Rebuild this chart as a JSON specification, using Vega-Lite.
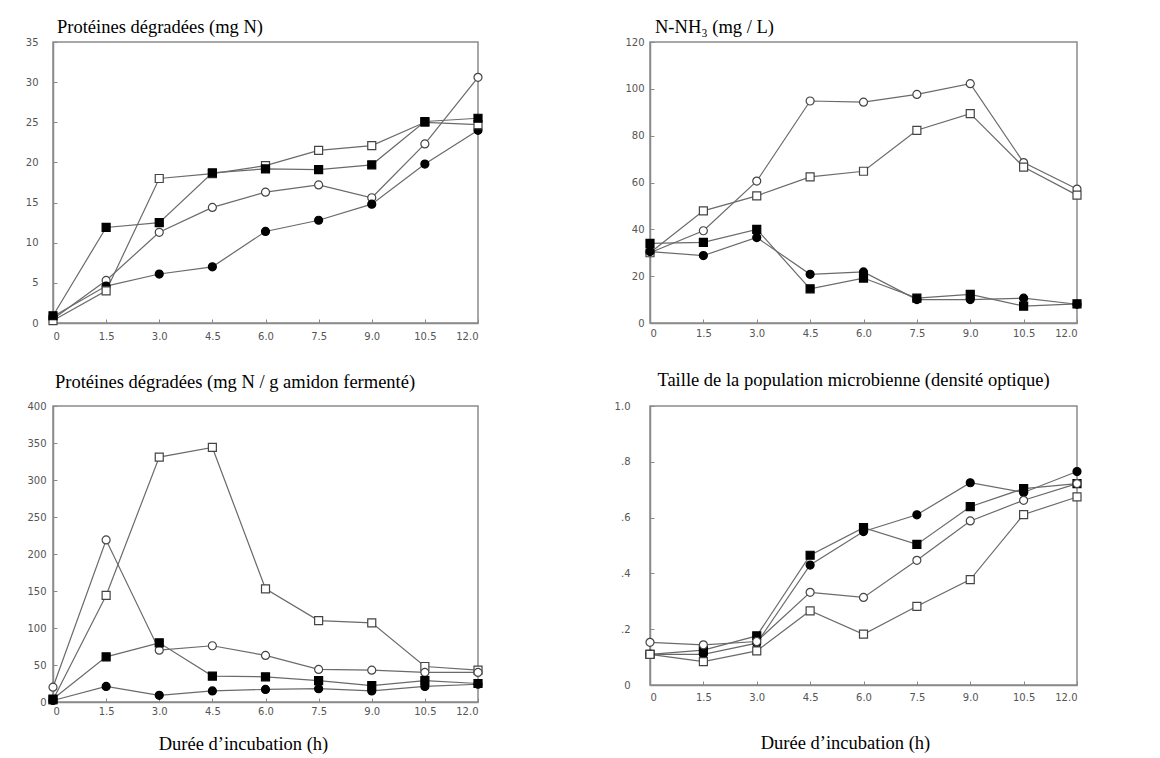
{
  "$schema": "https://vega.github.io/schema/vega-lite/v6.json",
  "background": "white",
  "padding": {"left": 24, "top": 16, "right": 5, "bottom": 5},
  "config": {
    "view": {"stroke": "#8a8a8a", "strokeWidth": 1.5},
    "axis": {
      "grid": false,
      "domainColor": "#8a8a8a",
      "domainWidth": 1.5,
      "tickColor": "#8a8a8a",
      "tickSize": -4,
      "tickWidth": 1,
      "labelFont": "DejaVu Sans",
      "labelFontSize": 10,
      "labelColor": "#555555",
      "titleFont": "Liberation Serif",
      "titleFontSize": 18.5,
      "titleFontWeight": "normal",
      "titleColor": "#000000"
    },
    "title": {"font": "Liberation Serif", "fontSize": 18.5, "fontWeight": "normal", "color": "#000000", "frame": "group"}
  },
  "data": {
    "values": [
      {"p": "A", "t": 0, "s": "cercle vide", "v": 0.5},
      {"p": "A", "t": 1.5, "s": "cercle vide", "v": 5.3},
      {"p": "A", "t": 3, "s": "cercle vide", "v": 11.3},
      {"p": "A", "t": 4.5, "s": "cercle vide", "v": 14.4},
      {"p": "A", "t": 6, "s": "cercle vide", "v": 16.3},
      {"p": "A", "t": 7.5, "s": "cercle vide", "v": 17.2},
      {"p": "A", "t": 9, "s": "cercle vide", "v": 15.6},
      {"p": "A", "t": 10.5, "s": "cercle vide", "v": 22.3},
      {"p": "A", "t": 12, "s": "cercle vide", "v": 30.6},
      {"p": "A", "t": 0, "s": "cercle plein", "v": 0.8},
      {"p": "A", "t": 1.5, "s": "cercle plein", "v": 4.6},
      {"p": "A", "t": 3, "s": "cercle plein", "v": 6.1},
      {"p": "A", "t": 4.5, "s": "cercle plein", "v": 7.0},
      {"p": "A", "t": 6, "s": "cercle plein", "v": 11.4},
      {"p": "A", "t": 7.5, "s": "cercle plein", "v": 12.8},
      {"p": "A", "t": 9, "s": "cercle plein", "v": 14.8},
      {"p": "A", "t": 10.5, "s": "cercle plein", "v": 19.8},
      {"p": "A", "t": 12, "s": "cercle plein", "v": 24.0},
      {"p": "A", "t": 0, "s": "carré vide", "v": 0.3},
      {"p": "A", "t": 1.5, "s": "carré vide", "v": 4.0},
      {"p": "A", "t": 3, "s": "carré vide", "v": 18.0},
      {"p": "A", "t": 4.5, "s": "carré vide", "v": 18.6},
      {"p": "A", "t": 6, "s": "carré vide", "v": 19.6},
      {"p": "A", "t": 7.5, "s": "carré vide", "v": 21.5},
      {"p": "A", "t": 9, "s": "carré vide", "v": 22.1},
      {"p": "A", "t": 10.5, "s": "carré vide", "v": 25.0},
      {"p": "A", "t": 12, "s": "carré vide", "v": 24.7},
      {"p": "A", "t": 0, "s": "carré plein", "v": 0.9},
      {"p": "A", "t": 1.5, "s": "carré plein", "v": 11.9},
      {"p": "A", "t": 3, "s": "carré plein", "v": 12.5},
      {"p": "A", "t": 4.5, "s": "carré plein", "v": 18.7},
      {"p": "A", "t": 6, "s": "carré plein", "v": 19.2},
      {"p": "A", "t": 7.5, "s": "carré plein", "v": 19.1},
      {"p": "A", "t": 9, "s": "carré plein", "v": 19.7},
      {"p": "A", "t": 10.5, "s": "carré plein", "v": 25.1},
      {"p": "A", "t": 12, "s": "carré plein", "v": 25.5},

      {"p": "B", "t": 0, "s": "cercle vide", "v": 30},
      {"p": "B", "t": 1.5, "s": "cercle vide", "v": 39.4},
      {"p": "B", "t": 3, "s": "cercle vide", "v": 60.6},
      {"p": "B", "t": 4.5, "s": "cercle vide", "v": 94.8},
      {"p": "B", "t": 6, "s": "cercle vide", "v": 94.3},
      {"p": "B", "t": 7.5, "s": "cercle vide", "v": 97.6},
      {"p": "B", "t": 9, "s": "cercle vide", "v": 102.2},
      {"p": "B", "t": 10.5, "s": "cercle vide", "v": 68.5},
      {"p": "B", "t": 12, "s": "cercle vide", "v": 57.2},
      {"p": "B", "t": 0, "s": "carré vide", "v": 30},
      {"p": "B", "t": 1.5, "s": "carré vide", "v": 47.9},
      {"p": "B", "t": 3, "s": "carré vide", "v": 54.3},
      {"p": "B", "t": 4.5, "s": "carré vide", "v": 62.4},
      {"p": "B", "t": 6, "s": "carré vide", "v": 64.8},
      {"p": "B", "t": 7.5, "s": "carré vide", "v": 82.3},
      {"p": "B", "t": 9, "s": "carré vide", "v": 89.4},
      {"p": "B", "t": 10.5, "s": "carré vide", "v": 66.6},
      {"p": "B", "t": 12, "s": "carré vide", "v": 54.6},
      {"p": "B", "t": 0, "s": "cercle plein", "v": 30.5},
      {"p": "B", "t": 1.5, "s": "cercle plein", "v": 28.8},
      {"p": "B", "t": 3, "s": "cercle plein", "v": 36.5},
      {"p": "B", "t": 4.5, "s": "cercle plein", "v": 20.8},
      {"p": "B", "t": 6, "s": "cercle plein", "v": 21.8},
      {"p": "B", "t": 7.5, "s": "cercle plein", "v": 10.0},
      {"p": "B", "t": 9, "s": "cercle plein", "v": 10.0},
      {"p": "B", "t": 10.5, "s": "cercle plein", "v": 10.6},
      {"p": "B", "t": 12, "s": "cercle plein", "v": 8.0},
      {"p": "B", "t": 0, "s": "carré plein", "v": 34.0},
      {"p": "B", "t": 1.5, "s": "carré plein", "v": 34.4},
      {"p": "B", "t": 3, "s": "carré plein", "v": 40.0},
      {"p": "B", "t": 4.5, "s": "carré plein", "v": 14.6},
      {"p": "B", "t": 6, "s": "carré plein", "v": 19.2},
      {"p": "B", "t": 7.5, "s": "carré plein", "v": 10.6},
      {"p": "B", "t": 9, "s": "carré plein", "v": 12.2},
      {"p": "B", "t": 10.5, "s": "carré plein", "v": 7.2},
      {"p": "B", "t": 12, "s": "carré plein", "v": 8.2},

      {"p": "C", "t": 0, "s": "carré vide", "v": 3},
      {"p": "C", "t": 1.5, "s": "carré vide", "v": 144},
      {"p": "C", "t": 3, "s": "carré vide", "v": 331},
      {"p": "C", "t": 4.5, "s": "carré vide", "v": 344},
      {"p": "C", "t": 6, "s": "carré vide", "v": 153},
      {"p": "C", "t": 7.5, "s": "carré vide", "v": 110},
      {"p": "C", "t": 9, "s": "carré vide", "v": 107},
      {"p": "C", "t": 10.5, "s": "carré vide", "v": 48},
      {"p": "C", "t": 12, "s": "carré vide", "v": 43},
      {"p": "C", "t": 0, "s": "cercle vide", "v": 20},
      {"p": "C", "t": 1.5, "s": "cercle vide", "v": 219},
      {"p": "C", "t": 3, "s": "cercle vide", "v": 70},
      {"p": "C", "t": 4.5, "s": "cercle vide", "v": 76},
      {"p": "C", "t": 6, "s": "cercle vide", "v": 63},
      {"p": "C", "t": 7.5, "s": "cercle vide", "v": 44},
      {"p": "C", "t": 9, "s": "cercle vide", "v": 43},
      {"p": "C", "t": 10.5, "s": "cercle vide", "v": 40},
      {"p": "C", "t": 12, "s": "cercle vide", "v": 40},
      {"p": "C", "t": 0, "s": "carré plein", "v": 4},
      {"p": "C", "t": 1.5, "s": "carré plein", "v": 61},
      {"p": "C", "t": 3, "s": "carré plein", "v": 80},
      {"p": "C", "t": 4.5, "s": "carré plein", "v": 35},
      {"p": "C", "t": 6, "s": "carré plein", "v": 34},
      {"p": "C", "t": 7.5, "s": "carré plein", "v": 29},
      {"p": "C", "t": 9, "s": "carré plein", "v": 22},
      {"p": "C", "t": 10.5, "s": "carré plein", "v": 29},
      {"p": "C", "t": 12, "s": "carré plein", "v": 25},
      {"p": "C", "t": 0, "s": "cercle plein", "v": 2},
      {"p": "C", "t": 1.5, "s": "cercle plein", "v": 21},
      {"p": "C", "t": 3, "s": "cercle plein", "v": 9},
      {"p": "C", "t": 4.5, "s": "cercle plein", "v": 15},
      {"p": "C", "t": 6, "s": "cercle plein", "v": 17},
      {"p": "C", "t": 7.5, "s": "cercle plein", "v": 18},
      {"p": "C", "t": 9, "s": "cercle plein", "v": 15},
      {"p": "C", "t": 10.5, "s": "cercle plein", "v": 21},
      {"p": "C", "t": 12, "s": "cercle plein", "v": 24},

      {"p": "D", "t": 0, "s": "cercle plein", "v": 0.11},
      {"p": "D", "t": 1.5, "s": "cercle plein", "v": 0.11},
      {"p": "D", "t": 3, "s": "cercle plein", "v": 0.15},
      {"p": "D", "t": 4.5, "s": "cercle plein", "v": 0.43},
      {"p": "D", "t": 6, "s": "cercle plein", "v": 0.55},
      {"p": "D", "t": 7.5, "s": "cercle plein", "v": 0.61},
      {"p": "D", "t": 9, "s": "cercle plein", "v": 0.725},
      {"p": "D", "t": 10.5, "s": "cercle plein", "v": 0.69},
      {"p": "D", "t": 12, "s": "cercle plein", "v": 0.765},
      {"p": "D", "t": 0, "s": "carré plein", "v": 0.11},
      {"p": "D", "t": 1.5, "s": "carré plein", "v": 0.125},
      {"p": "D", "t": 3, "s": "carré plein", "v": 0.176},
      {"p": "D", "t": 4.5, "s": "carré plein", "v": 0.465},
      {"p": "D", "t": 6, "s": "carré plein", "v": 0.564},
      {"p": "D", "t": 7.5, "s": "carré plein", "v": 0.504},
      {"p": "D", "t": 9, "s": "carré plein", "v": 0.639},
      {"p": "D", "t": 10.5, "s": "carré plein", "v": 0.704},
      {"p": "D", "t": 12, "s": "carré plein", "v": 0.722},
      {"p": "D", "t": 0, "s": "cercle vide", "v": 0.153},
      {"p": "D", "t": 1.5, "s": "cercle vide", "v": 0.144},
      {"p": "D", "t": 3, "s": "cercle vide", "v": 0.156},
      {"p": "D", "t": 4.5, "s": "cercle vide", "v": 0.332},
      {"p": "D", "t": 6, "s": "cercle vide", "v": 0.314},
      {"p": "D", "t": 7.5, "s": "cercle vide", "v": 0.447},
      {"p": "D", "t": 9, "s": "cercle vide", "v": 0.588},
      {"p": "D", "t": 10.5, "s": "cercle vide", "v": 0.662},
      {"p": "D", "t": 12, "s": "cercle vide", "v": 0.722},
      {"p": "D", "t": 0, "s": "carré vide", "v": 0.11},
      {"p": "D", "t": 1.5, "s": "carré vide", "v": 0.084},
      {"p": "D", "t": 3, "s": "carré vide", "v": 0.122},
      {"p": "D", "t": 4.5, "s": "carré vide", "v": 0.266},
      {"p": "D", "t": 6, "s": "carré vide", "v": 0.182},
      {"p": "D", "t": 7.5, "s": "carré vide", "v": 0.282},
      {"p": "D", "t": 9, "s": "carré vide", "v": 0.378},
      {"p": "D", "t": 10.5, "s": "carré vide", "v": 0.611},
      {"p": "D", "t": 12, "s": "carré vide", "v": 0.674}
    ]
  },
  "concat": [
    {
      "width": 425, "height": 281,
      "title": {"text": "Protéines dégradées (mg N)", "anchor": "start", "dx": 4, "offset": 1},
      "transform": [{"filter": "datum.p == 'A'"}],
      "encoding": {
        "x": {"field": "t", "type": "quantitative", "scale": {"domain": [0, 12]},
              "axis": {"title": null, "values": [0, 1.5, 3, 4.5, 6, 7.5, 9, 10.5, 12], "labelExpr": "datum.value == 0 ? '0' : format(datum.value, '.1f')", "labelPadding": 12}},
        "y": {"field": "v", "type": "quantitative", "scale": {"domain": [0, 35]},
              "axis": {"title": null, "values": [0, 5, 10, 15, 20, 25, 30, 35], "labelPadding": 19}}
      },
      "layer": [
        {"mark": {"type": "line", "color": "#6a6a6a", "strokeWidth": 1.2}, "encoding": {"detail": {"field": "s"}}},
        {"mark": {"type": "point", "filled": true, "size": 64, "strokeWidth": 1.2, "opacity": 1},
         "encoding": {
           "shape": {"field": "s", "scale": {"domain": ["cercle vide", "cercle plein", "carré vide", "carré plein"], "range": ["circle", "circle", "square", "square"]}, "legend": null},
           "fill": {"field": "s", "scale": {"domain": ["cercle vide", "cercle plein", "carré vide", "carré plein"], "range": ["#ffffff", "#000000", "#ffffff", "#000000"]}, "legend": null},
           "stroke": {"field": "s", "scale": {"domain": ["cercle vide", "cercle plein", "carré vide", "carré plein"], "range": ["#444444", "#000000", "#444444", "#000000"]}, "legend": null}
         }}
      ]
    },
    {
      "width": 427, "height": 281,
      "title": {"text": "N-NH₃ (mg / L)", "anchor": "start", "dx": 5, "offset": 1},
      "transform": [{"filter": "datum.p == 'B'"}],
      "encoding": {
        "x": {"field": "t", "type": "quantitative", "scale": {"domain": [0, 12]},
              "axis": {"title": null, "values": [0, 1.5, 3, 4.5, 6, 7.5, 9, 10.5, 12], "labelExpr": "datum.value == 0 ? '0' : format(datum.value, '.1f')", "labelPadding": 9}},
        "y": {"field": "v", "type": "quantitative", "scale": {"domain": [0, 120]},
              "axis": {"title": null, "values": [0, 20, 40, 60, 80, 100, 120], "labelPadding": 10}}
      },
      "layer": [
        {"mark": {"type": "line", "color": "#6a6a6a", "strokeWidth": 1.2}, "encoding": {"detail": {"field": "s"}}},
        {"mark": {"type": "point", "filled": true, "size": 64, "strokeWidth": 1.2, "opacity": 1},
         "encoding": {
           "shape": {"field": "s", "scale": {"domain": ["cercle vide", "cercle plein", "carré vide", "carré plein"], "range": ["circle", "circle", "square", "square"]}, "legend": null},
           "fill": {"field": "s", "scale": {"domain": ["cercle vide", "cercle plein", "carré vide", "carré plein"], "range": ["#ffffff", "#000000", "#ffffff", "#000000"]}, "legend": null},
           "stroke": {"field": "s", "scale": {"domain": ["cercle vide", "cercle plein", "carré vide", "carré plein"], "range": ["#444444", "#000000", "#444444", "#000000"]}, "legend": null}
         }}
      ]
    },
    {
      "width": 425, "height": 296,
      "title": {"text": "Protéines dégradées (mg N / g amidon fermenté)", "anchor": "start", "dx": 2, "offset": 10},
      "transform": [{"filter": "datum.p == 'C'"}],
      "encoding": {
        "x": {"field": "t", "type": "quantitative", "scale": {"domain": [0, 12]},
              "axis": {"title": "Durée d’incubation (h)", "titleX": 190, "titleY": 41, "titleAnchor": null, "titleAlign": "center", "titleBaseline": "middle", "values": [0, 1.5, 3, 4.5, 6, 7.5, 9, 10.5, 12], "labelExpr": "datum.value == 0 ? '0' : format(datum.value, '.1f')", "labelPadding": 8}},
        "y": {"field": "v", "type": "quantitative", "scale": {"domain": [0, 400]},
              "axis": {"title": null, "values": [0, 50, 100, 150, 200, 250, 300, 350, 400], "labelPadding": 11}}
      },
      "layer": [
        {"mark": {"type": "line", "color": "#6a6a6a", "strokeWidth": 1.2}, "encoding": {"detail": {"field": "s"}}},
        {"mark": {"type": "point", "filled": true, "size": 64, "strokeWidth": 1.2, "opacity": 1},
         "encoding": {
           "shape": {"field": "s", "scale": {"domain": ["cercle vide", "cercle plein", "carré vide", "carré plein"], "range": ["circle", "circle", "square", "square"]}, "legend": null},
           "fill": {"field": "s", "scale": {"domain": ["cercle vide", "cercle plein", "carré vide", "carré plein"], "range": ["#ffffff", "#000000", "#ffffff", "#000000"]}, "legend": null},
           "stroke": {"field": "s", "scale": {"domain": ["cercle vide", "cercle plein", "carré vide", "carré plein"], "range": ["#444444", "#000000", "#444444", "#000000"]}, "legend": null}
         }}
      ]
    },
    {
      "width": 427, "height": 279,
      "title": {"text": "Taille de la population microbienne (densité optique)", "anchor": "middle", "dx": -10, "offset": 12},
      "transform": [{"filter": "datum.p == 'D'"}],
      "encoding": {
        "x": {"field": "t", "type": "quantitative", "scale": {"domain": [0, 12]},
              "axis": {"title": "Durée d’incubation (h)", "titleX": 195, "titleY": 57, "titleAnchor": null, "titleAlign": "center", "titleBaseline": "middle", "values": [0, 1.5, 3, 4.5, 6, 7.5, 9, 10.5, 12], "labelExpr": "datum.value == 0 ? '0' : format(datum.value, '.1f')", "labelPadding": 11}},
        "y": {"field": "v", "type": "quantitative", "scale": {"domain": [0, 1]},
              "axis": {"title": null, "values": [0, 0.2, 0.4, 0.6, 0.8, 1.0], "labelExpr": "datum.value == 0 ? '0' : datum.value == 1 ? '1.0' : replace(format(datum.value, '.1f'), '0.', '.')", "labelPadding": 24}}
      },
      "layer": [
        {"mark": {"type": "line", "color": "#6a6a6a", "strokeWidth": 1.2}, "encoding": {"detail": {"field": "s"}}},
        {"mark": {"type": "point", "filled": true, "size": 64, "strokeWidth": 1.2, "opacity": 1},
         "encoding": {
           "shape": {"field": "s", "scale": {"domain": ["cercle vide", "cercle plein", "carré vide", "carré plein"], "range": ["circle", "circle", "square", "square"]}, "legend": null},
           "fill": {"field": "s", "scale": {"domain": ["cercle vide", "cercle plein", "carré vide", "carré plein"], "range": ["#ffffff", "#000000", "#ffffff", "#000000"]}, "legend": null},
           "stroke": {"field": "s", "scale": {"domain": ["cercle vide", "cercle plein", "carré vide", "carré plein"], "range": ["#444444", "#000000", "#444444", "#000000"]}, "legend": null}
         }}
      ]
    }
  ],
  "columns": 2,
  "bounds": "flush",
  "spacing": {"row": 83, "column": 172},
  "resolve": {"scale": {"y": "independent", "x": "independent", "shape": "shared", "fill": "shared", "stroke": "shared"}}
}
